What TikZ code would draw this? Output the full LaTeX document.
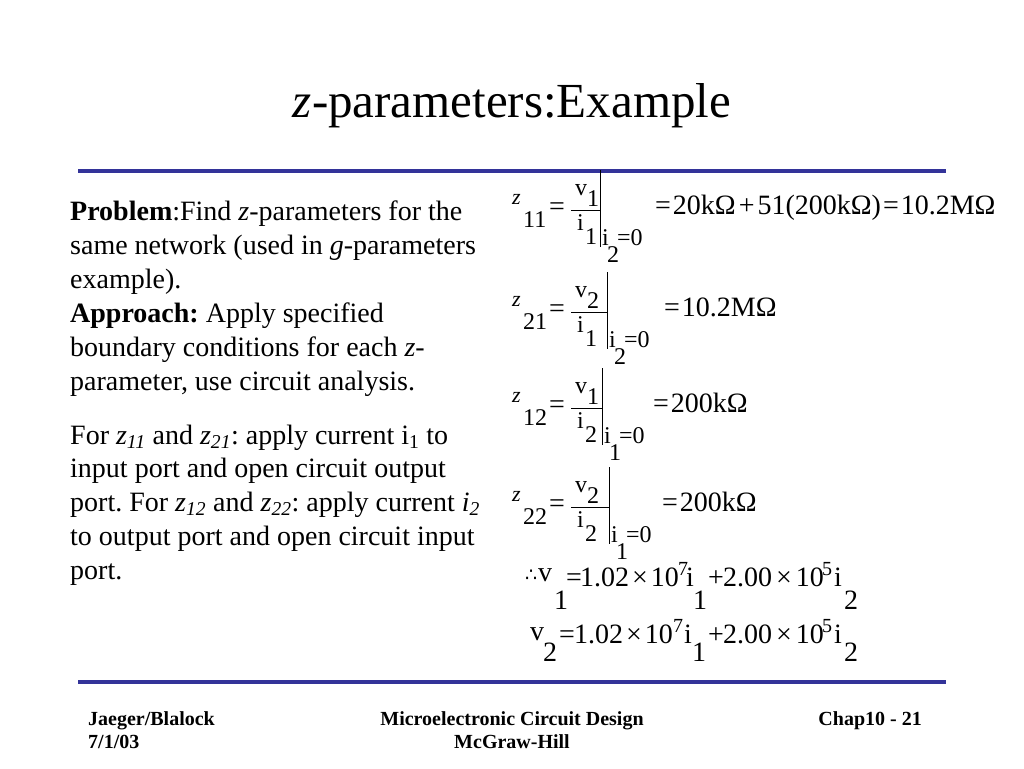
\documentclass[tikz,border=0pt]{standalone}
\usepackage{fontspec}
\setmainfont{Liberation Serif}
\newfontfamily\dvsymb{DejaVu Sans}
\definecolor{ruleblue}{RGB}{51,51,153}
\tikzset{
  body/.style={anchor=base west, inner sep=0pt, font=\fontsize{28}{34}\selectfont\frenchspacing},
  eqs/.style={anchor=base west, inner sep=0pt, font=\fontsize{24}{24}\selectfont},
  eqb/.style={anchor=base west, inner sep=0pt, font=\fontsize{28}{28}\selectfont},
  eqsup/.style={anchor=base west, inner sep=0pt, font=\fontsize{20}{20}\selectfont},
  zsmall/.style={anchor=base west, inner sep=0pt, font=\fontsize{22}{22}\selectfont\itshape},
  rulel/.style={draw=ruleblue, line width=3.5pt},
  thinl/.style={line width=0.8pt},
  foot/.style={anchor=base, inner sep=0pt, font=\fontsize{20}{20}\selectfont\bfseries},
}
\newcommand\zblk[9]{%
  \node[zsmall] (#1z) at (512,{#2-1}) {z};
  \node[eqs] (#1zs) at (523,{#2+22}) {#3};
  \node[eqb] (#1eq) at (549,{#2+10}) {=};
  \node[eqs] (#1v) at (575,{#2-10}) {v};
  \node[eqs] (#1vs) at (587,{#2+1}) {#4};
  \node[eqs] (#1i) at (577,{#2+25}) {i};
  \node[eqs] (#1is) at (585,{#2+39}) {#5};
  \coordinate (#1fl) at (571,{#2+5});
  \coordinate (#1fr) at (#7,{#2+5});
  \draw[thinl] (#1fl) -- (#1fr);
  \coordinate (#1bt) at (#7,{#2-35});
  \coordinate (#1bb) at (#7,{#2+42});
  \draw[thinl] (#1bt) -- (#1bb);
  \node[eqs] (#1ci) at ({#7+2},{#2+40}) {i};
  \node[eqs] (#1cs) at ({#7+7},{#2+57}) {#6};
  \node[eqs] (#1c0) at ({#7+17},{#2+40}) {=0};
  \node[eqb] (#1r) at (#8,{#2+9}) {#9};
}
\begin{document}
\begin{tikzpicture}[x=1pt,y=-1pt]
\useasboundingbox (0,0) rectangle (1024,768);
\fill[white] (0,0) rectangle (1024,768);

% title
\node[anchor=base, inner sep=0pt, font=\fontsize{49}{58}\selectfont] (title) at (512,117) {\textit{z}-parameters:Example};

% rules
\coordinate (r1l) at (78,171); \coordinate (r1r) at (946,171);
\coordinate (r2l) at (78,682); \coordinate (r2r) at (946,682);
\draw[rulel] (r1l) -- (r1r);
\draw[rulel] (r2l) -- (r2r);

% left text
\node[body] (l1) at (70,220) {\textbf{Problem}:Find \textit{z}-parameters for the};
\node[body] (l2) at (70,254) {same network (used in \textit{g}-parameters};
\node[body] (l3) at (70,288) {example).};
\node[body] (l4) at (70,322) {\textbf{Approach:} Apply specified};
\node[body] (l5) at (70,356) {boundary conditions for each \textit{z}-};
\node[body] (l6) at (70,390) {parameter, use circuit analysis.};
\node[body] (l7) at (70,444) {For \textit{z}\textsubscript{\textit{11}} and \textit{z}\textsubscript{\textit{21}}: apply current i\textsubscript{1} to};
\node[body] (l8) at (70,477.75) {input port and open circuit output};
\node[body] (l9) at (70,511.5) {port. For \textit{z}\textsubscript{\textit{12}} and \textit{z}\textsubscript{\textit{22}}: apply current \textit{i}\textsubscript{\textit{2}}};
\node[body] (l10) at (70,545.25) {to output port and open circuit input};
\node[body] (l11) at (70,579) {port.};

% z-parameter blocks
\zblk{a}{205}{11}{1}{1}{2}{600}{655}{=\hspace{2pt}20kΩ\hspace{3pt}+\hspace{3pt}51(200kΩ)\hspace{2pt}=\hspace{2pt}10.2MΩ}
\zblk{b}{307}{21}{2}{1}{2}{607}{664}{=\hspace{2pt}10.2MΩ}
\zblk{c}{403}{12}{1}{2}{1}{602}{653}{=\hspace{2pt}200kΩ}
\zblk{d}{502}{22}{2}{2}{1}{609}{662}{=\hspace{2pt}200kΩ}

% final equations line 1
\node[anchor=base west, inner sep=0pt, font=\dvsymb\fontsize{19}{19}\selectfont] (th) at (525,581) {∴};
\node[eqb] (pv) at (538,581) {v};
\node[eqb] (pvs) at (554,609) {1};
\node[eqb] (peq) at (566,586) {=};
\node[eqb] (pa) at (580,586) {1.02\hspace{3pt}×\hspace{3pt}10};
\node[eqsup] (pe) at (678,575) {7};
\node[eqb] (pi) at (686,586) {i};
\node[eqb] (pis) at (693,609) {1};
\node[eqb] (pp) at (708,586) {+};
\node[eqb] (pb) at (723,586) {2.00\hspace{4pt}×\hspace{4pt}10};
\node[eqsup] (pf) at (822,575) {5};
\node[eqb] (pj) at (834,586) {i};
\node[eqb] (pjs) at (844,609) {2};

% final equations line 2
\node[eqb] (qv) at (530,640) {v};
\node[eqb] (qvs) at (543,661) {2};
\node[eqb] (qeq) at (559,643) {=};
\node[eqb] (qa) at (574,643) {1.02\hspace{3pt}×\hspace{3pt}10};
\node[eqsup] (qe) at (673,632) {7};
\node[eqb] (qi) at (684,643) {i};
\node[eqb] (qis) at (692,661) {1};
\node[eqb] (qp) at (708,643) {+};
\node[eqb] (qb) at (723,643) {2.00\hspace{4pt}×\hspace{4pt}10};
\node[eqsup] (qf) at (822,632) {5};
\node[eqb] (qj) at (834,643) {i};
\node[eqb] (qjs) at (844,661) {2};

% footer
\node[foot, anchor=base west] (f1) at (88,725) {Jaeger/Blalock};
\node[foot, anchor=base west] (f2) at (88,748) {7/1/03};
\node[foot] (f3) at (512,725) {Microelectronic Circuit Design};
\node[foot] (f4) at (512,748) {McGraw-Hill};
\node[foot, anchor=base east] (f5) at (922,725) {Chap10 - 21};
\end{tikzpicture}
\end{document}
